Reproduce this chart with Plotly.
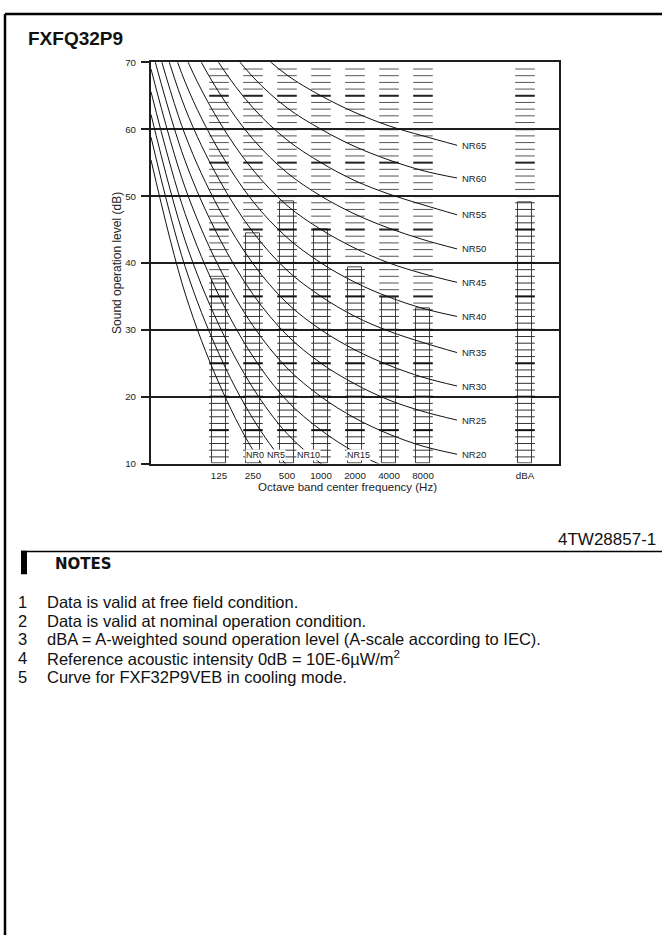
import math
import plotly.graph_objects as go

# ---------------- data ----------------
bands = ["125", "250", "500", "1000", "2000", "4000", "8000"]
band_levels = [37.5, 44.5, 49.2, 45.1, 39.4, 34.8, 33.2]
dba_label = "dBA"
dba_level = 49.0

nr_freqs = ["31.5", "63", "125", "250", "500", "1000", "2000", "4000", "8000"]
NR0 = [55.4, 35.5, 22.0, 12.0, 4.8, 0.0, -3.5, -6.1, -8.0]
NR5 = [58.8, 39.5, 26.4, 16.7, 9.7, 5.0, 1.6, -1.0, -2.9]
NR10 = [62.2, 43.4, 30.7, 21.3, 14.5, 10.0, 6.7, 4.2, 2.3]
NR15 = [65.6, 47.4, 35.1, 26.0, 19.4, 15.0, 11.7, 9.3, 7.5]
NR20 = [69.0, 51.3, 39.4, 30.6, 24.3, 20.0, 16.8, 14.4, 12.6]
NR25 = [72.4, 55.3, 43.8, 35.3, 29.2, 25.0, 21.9, 19.5, 17.8]
NR30 = [75.8, 59.2, 48.1, 39.9, 34.0, 30.0, 27.0, 24.7, 22.9]
NR35 = [79.2, 63.2, 52.5, 44.6, 38.9, 35.0, 32.0, 29.8, 28.1]
NR40 = [82.6, 67.1, 56.8, 49.2, 43.8, 40.0, 37.1, 34.9, 33.2]
NR45 = [86.0, 71.1, 61.2, 53.9, 48.6, 45.0, 42.2, 40.0, 38.4]
NR50 = [89.5, 75.0, 65.5, 58.5, 53.5, 50.0, 47.3, 45.2, 43.5]
NR55 = [92.9, 79.0, 69.9, 63.2, 58.4, 55.0, 52.3, 50.3, 48.7]
NR60 = [96.3, 82.9, 74.2, 67.8, 63.2, 60.0, 57.4, 55.4, 53.8]
NR65 = [99.7, 86.9, 78.6, 72.5, 68.1, 65.0, 62.5, 60.5, 59.0]
nr_low_names = ["NR0", "NR5", "NR10", "NR15"]
nr_low_curves = [NR0, NR5, NR10, NR15]
nr_high_names = ["NR20", "NR25", "NR30", "NR35", "NR40", "NR45", "NR50", "NR55", "NR60", "NR65"]
nr_high_curves = [NR20, NR25, NR30, NR35, NR40, NR45, NR50, NR55, NR60, NR65]
nr_high_end = [11.4, 16.5, 21.6, 26.6, 32.0, 37.1, 42.1, 47.2, 52.7, 57.6]

y_ticks = [10, 20, 30, 40, 50, 60, 70]

title = "FXFQ32P9"
drawing_no = "4TW28857-1"
notes_head = "NOTES"
notes = [
    "Data is valid at free field condition.",
    "Data is valid at nominal operation condition.",
    "dBA = A-weighted sound operation level (A-scale according to IEC).",
    "Reference acoustic intensity 0dB = 10E-6\u00b5W/m<sup>2</sup>",
    "Curve for FXF32P9VEB in cooling mode.",
]

# ---------------- layout constants ----------------
W, H = 662, 940
PX0, PX1 = 151, 559       # plot area in px
PY0, PY1 = 57, 463        # top / bottom in px
band_pos = list(range(len(bands)))
dba_pos = 9
nr_pos = [p - 2 for p in range(len(nr_freqs))]
nr_end_pos = 7
low_label_pos = [1.07, 1.68, 2.62, 4.09]
low_label_y = 11.3
BAR_W = 0.41
DASH_PX = 14
FONT = "Liberation Sans, Arial, sans-serif"
DARK = "#1e1e1e"


def px(x):
    return x / W


def py(y):
    return 1 - y / H


fig = go.Figure()

# bars (ladders)
col_x = band_pos + [dba_pos]
col_v = band_levels + [dba_level]
fig.add_trace(go.Bar(
    x=col_x, y=[v - 10 for v in col_v], base=10, width=BAR_W,
    marker=dict(color="white", line=dict(color="#444", width=1)),
    hoverinfo="skip", showlegend=False))

thin_x, thin_y, thick_x, thick_y = [], [], [], []
dash_x, dash_y, dash5_x, dash5_y = [], [], [], []
for x, v in zip(col_x, col_v):
    for k in range(11, 70):
        inside = k <= v
        if k % 5 == 0:
            (thick_x if inside else dash5_x).append(x)
            (thick_y if inside else dash5_y).append(k)
        else:
            (thin_x if inside else dash_x).append(x)
            (thin_y if inside else dash_y).append(k)


def ticks(xs, ys, w, c):
    fig.add_trace(go.Scatter(
        x=xs, y=ys, mode="markers", hoverinfo="skip", showlegend=False,
        cliponaxis=False,
        marker=dict(symbol="line-ew", size=DASH_PX, color=c,
                    line=dict(width=w, color=c))))


ticks(dash_x, dash_y, 1, "#555")
ticks(dash5_x, dash5_y, 2, "#222")
ticks(thin_x, thin_y, 1, "#333")
ticks(thick_x, thick_y, 2, "#111")

# NR curves
for name, vals in zip(nr_low_names, nr_low_curves):
    fig.add_trace(go.Scatter(
        x=nr_pos, y=vals, mode="lines", hoverinfo="skip", showlegend=False,
        line=dict(color="#111", width=1, shape="spline", smoothing=1.0)))
for name, vals, end in zip(nr_high_names, nr_high_curves, nr_high_end):
    fig.add_trace(go.Scatter(
        x=nr_pos + [nr_end_pos], y=vals + [end], mode="lines",
        hoverinfo="skip", showlegend=False,
        line=dict(color="#111", width=1, shape="spline", smoothing=1.0)))

annotations = []
for name, end in zip(nr_high_names, nr_high_end):
    annotations.append(dict(
        x=nr_end_pos, y=end, xref="x", yref="y", text=name, showarrow=False,
        xanchor="left", yanchor="middle", xshift=3,
        font=dict(family=FONT, size=9.5, color="#222")))
for name, xp in zip(nr_low_names, low_label_pos):
    annotations.append(dict(
        x=xp, y=low_label_y, xref="x", yref="y", text=name, showarrow=False,
        xanchor="center", yanchor="middle", bgcolor="white", borderpad=0,
        font=dict(family=FONT, size=9, color="#222")))

# axis titles
annotations.append(dict(
    x=px(117), y=py((PY0 + PY1) / 2), xref="paper", yref="paper",
    text="Sound operation level (dB)", textangle=-90, showarrow=False,
    xanchor="center", yanchor="middle",
    font=dict(family=FONT, size=12, color="#222")))
annotations.append(dict(
    x=px(348), y=py(487), xref="paper", yref="paper",
    text="Octave band center frequency (Hz)", showarrow=False,
    xanchor="center", yanchor="middle",
    font=dict(family=FONT, size=11.5, color="#222")))

# title and notes
annotations.append(dict(
    x=px(26), y=py(33), xref="paper", yref="paper", text="<b>%s</b>" % title,
    showarrow=False, xanchor="left", yanchor="middle",
    font=dict(family=FONT, size=19, color="#111")))
annotations.append(dict(
    x=px(658), y=py(540), xref="paper", yref="paper", text=drawing_no,
    showarrow=False, xanchor="right", yanchor="middle",
    font=dict(family=FONT, size=17, color="#111")))
annotations.append(dict(
    x=px(53), y=py(565), xref="paper", yref="paper", text="<b>%s</b>" % notes_head,
    showarrow=False, xanchor="left", yanchor="middle",
    font=dict(family="DejaVu Sans, sans-serif", size=15, color="#111")))
row_y = [603, 622, 641, 660, 679]
for i, (t, yy) in enumerate(zip(notes, row_y)):
    annotations.append(dict(
        x=px(16), y=py(yy), xref="paper", yref="paper", text=str(i + 1),
        showarrow=False, xanchor="left", yanchor="middle",
        font=dict(family=FONT, size=16.5, color="#111")))
    annotations.append(dict(
        x=px(45), y=py(yy), xref="paper", yref="paper", text=t,
        showarrow=False, xanchor="left", yanchor="middle",
        font=dict(family=FONT, size=16.5, color="#111")))

shapes = [
    # page frame
    dict(type="line", xref="paper", yref="paper", x0=px(5), x1=px(662),
         y0=py(8), y1=py(8), line=dict(color="#000", width=2.5)),
    dict(type="line", xref="paper", yref="paper", x0=px(5), x1=px(5),
         y0=py(8), y1=py(940), line=dict(color="#000", width=2.5)),
    # notes header rule and block
    dict(type="line", xref="paper", yref="paper", x0=px(27), x1=px(662),
         y0=py(552), y1=py(552), line=dict(color="#000", width=1.5)),
    dict(type="rect", xref="paper", yref="paper", x0=px(21), x1=px(27),
         y0=py(551), y1=py(575), fillcolor="#000", line=dict(width=0)),
]

fig.update_layout(
    width=W, height=H, margin=dict(l=0, r=0, t=0, b=0),
    paper_bgcolor="white", plot_bgcolor="white",
    showlegend=False, bargap=0,
    annotations=annotations, shapes=shapes,
    xaxis=dict(domain=[px(PX0), px(PX1)], range=[-2, 10],
               tickvals=band_pos + [dba_pos], ticktext=bands + [dba_label],
               ticks="", showgrid=False, zeroline=False,
               showline=True, mirror=True, linewidth=2, linecolor=DARK,
               ticklabelstandoff=2,
               tickfont=dict(family=FONT, size=9.75, color="#222")),
    yaxis=dict(domain=[py(PY1), py(PY0)], range=[10, 70],
               tickvals=y_ticks, ticks="outside", ticklen=8, tickwidth=2,
               tickcolor=DARK, showgrid=True, gridcolor=DARK, gridwidth=2,
               zeroline=False, showline=True, mirror=True, linewidth=2,
               linecolor=DARK, ticklabelstandoff=3,
               tickfont=dict(family=FONT, size=9.75, color="#222")),
)

fig.write_html("out.html")
